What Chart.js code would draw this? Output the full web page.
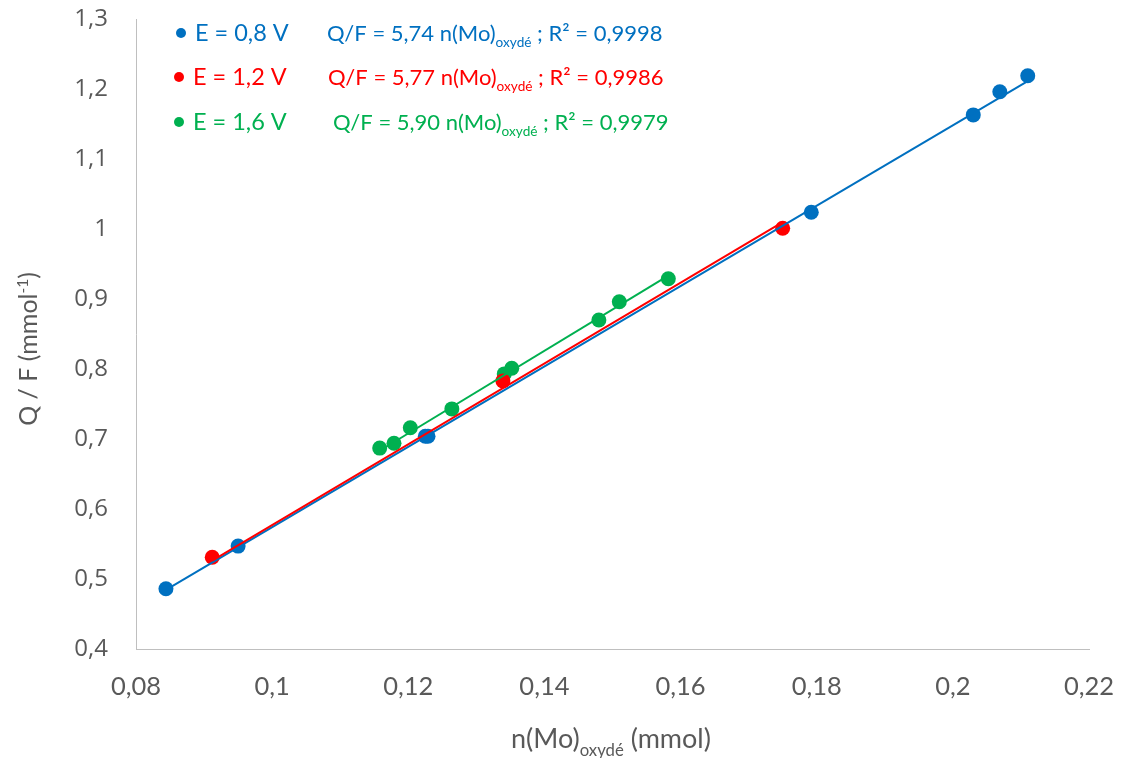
<!DOCTYPE html>
<html><head><meta charset="utf-8">
<script src="https://cdn.jsdelivr.net/npm/chart.js@4/dist/chart.umd.min.js"></script>
<style>html,body{margin:0;padding:0;background:#fff}#wrap{width:1121px;height:758px;position:relative}</style>
</head><body><div id="wrap"><canvas id="c" width="1121" height="758"></canvas></div>
<script>
// ---- data ----
const seriesNames = ['E = 0,8 V', 'E = 1,2 V', 'E = 1,6 V'];
const slopes = [5.74, 5.77, 5.90];
const r2Labels = ['0,9998', '0,9986', '0,9979'];

const x08 = [0.0844, 0.0950, 0.1225, 0.1229, 0.1792, 0.2030, 0.2069, 0.2110];
const y08 = [0.486, 0.547, 0.704, 0.704, 1.024, 1.163, 1.196, 1.219];

const x12 = [0.0912, 0.1339, 0.1750];
const y12 = [0.531, 0.783, 1.001];

const x16 = [0.1158, 0.1179, 0.1203, 0.1264, 0.1341, 0.1352, 0.1480, 0.1510, 0.1582];
const y16 = [0.687, 0.694, 0.716, 0.743, 0.793, 0.801, 0.870, 0.896, 0.929];

const xTickValues = [0.08, 0.10, 0.12, 0.14, 0.16, 0.18, 0.20, 0.22];
const yTickValues = [0.4, 0.5, 0.6, 0.7, 0.8, 0.9, 1.0, 1.1, 1.2, 1.3];

// ---- styles ----
const colors = ['#0070C0', '#FF0000', '#00B050'];
const textGray = '#595959';
const FONT_MAIN = 'Lato, "Open Sans", sans-serif';
const FONT_Y = '"Open Sans", sans-serif';

const fmt = v => String(Number(v.toFixed(2))).replace('.', ',');
const toPts = (xs, ys) => xs.map((x, i) => ({x: x, y: ys[i]}));
const trend = (xs, k) => {
  const lo = Math.min(...xs), hi = Math.max(...xs);
  return [{x: lo, y: k * lo}, {x: hi, y: k * hi}];
};
const allX = [x08, x12, x16];
const allY = [y08, y12, y16];

const datasets = [];
for (let i = 0; i < 3; i++) {
  datasets.push({
    type: 'line', data: trend(allX[i], slopes[i]), borderColor: colors[i], borderWidth: 2,
    pointRadius: 0, showLine: true, fill: false, order: 3 - i
  });
}
for (let i = 0; i < 3; i++) {
  datasets.push({
    type: 'scatter', data: toPts(allX[i], allY[i]), backgroundColor: colors[i], borderColor: colors[i],
    pointRadius: 7.5, pointBorderWidth: 0, showLine: false, order: 10 + i
  });
}

function drawRich(ctx, segs, x, y, size, family, align) {
  let total = 0;
  const parts = segs.map(s => {
    const fs = (s.sub || s.sup) ? size * 0.62 : size;
    ctx.font = fs + 'px ' + family;
    const w = ctx.measureText(s.t).width;
    total += w;
    return {s, fs, w};
  });
  let cx = align === 'center' ? x - total / 2 : x;
  ctx.textBaseline = 'alphabetic';
  ctx.textAlign = 'left';
  for (const p of parts) {
    ctx.font = p.fs + 'px ' + family;
    let dy = 0;
    if (p.s.sub) dy = size * 0.28;
    if (p.s.sup) dy = -size * 0.38;
    ctx.fillText(p.s.t, cx, y + dy);
    cx += p.w;
  }
  return total;
}

const overlay = {
  id: 'overlay',
  afterDraw(chart) {
    const ctx = chart.ctx;
    ctx.save();
    const rows = [
      {by: 33, bx: 181, tx: 195, qx: 327},
      {by: 77, bx: 179, tx: 193, qx: 328},
      {by: 122, bx: 179, tx: 193, qx: 333}
    ];
    for (let i = 0; i < 3; i++) {
      const r = rows[i];
      ctx.fillStyle = colors[i];
      ctx.beginPath(); ctx.arc(r.bx, r.by, 5, 0, Math.PI * 2); ctx.fill();
      ctx.font = '23.5px ' + FONT_MAIN;
      ctx.textBaseline = 'alphabetic'; ctx.textAlign = 'left';
      ctx.fillText(seriesNames[i], r.tx, r.by + 8);
      drawRich(ctx, [
        {t: 'Q/F = ' + slopes[i].toFixed(2).replace('.', ',') + ' n(Mo)'},
        {t: 'oxydé', sub: true},
        {t: ' ; R² = ' + r2Labels[i]}
      ], r.qx, r.by + 8, 22, FONT_MAIN, 'left');
    }
    ctx.fillStyle = textGray;
    drawRich(ctx, [{t: 'n(Mo)'}, {t: 'oxydé', sub: true}, {t: ' (mmol)'}], 611, 748, 27, FONT_MAIN, 'center');
    ctx.translate(37, 349);
    ctx.rotate(-Math.PI / 2);
    drawRich(ctx, [{t: 'Q / F (mmol'}, {t: '-1', sup: true}, {t: ')'}], 0, 0, 25, FONT_MAIN, 'center');
    ctx.restore();
  }
};

new Chart(document.getElementById('c'), {
  type: 'scatter',
  data: {datasets},
  plugins: [overlay],
  options: {
    responsive: false, animation: false, devicePixelRatio: 1,
    layout: {padding: {top: 19, right: 32, left: 0, bottom: 0}},
    plugins: {legend: {display: false}, tooltip: {enabled: false}, title: {display: false}},
    scales: {
      x: {
        type: 'linear', min: 0.08, max: 0.22,
        afterBuildTicks: s => { s.ticks = xTickValues.map(v => ({value: v})); },
        afterFit: s => { s.height = 109; s.paddingLeft = 0; s.paddingRight = 0; },
        grid: {display: false, drawTicks: false},
        border: {display: true, color: '#BFBFBF', width: 1},
        ticks: {callback: v => fmt(v), color: textGray, font: {family: FONT_MAIN, size: 25.5}, padding: 22, maxRotation: 0}
      },
      y: {
        type: 'linear', min: 0.4, max: 1.3,
        afterBuildTicks: s => { s.ticks = yTickValues.map(v => ({value: v})); },
        afterFit: s => { s.width = 136; s.paddingTop = 0; s.paddingBottom = 0; },
        grid: {display: false, drawTicks: false},
        border: {display: true, color: '#BFBFBF', width: 1},
        ticks: {callback: v => fmt(v), color: textGray, font: {family: FONT_Y, size: 24}, padding: 28}
      }
    }
  }
});
</script></body></html>
